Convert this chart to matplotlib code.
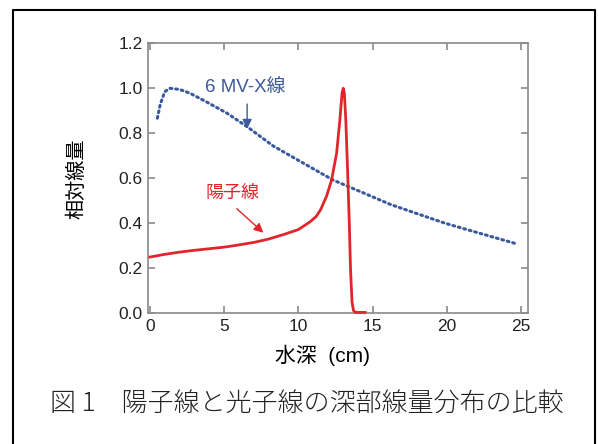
import numpy as np
import matplotlib
matplotlib.use('Agg')
import matplotlib.pyplot as plt
from matplotlib.lines import Line2D

plt.rcParams['font.family'] = ['Liberation Sans', 'Noto Sans CJK JP', 'DejaVu Sans']

# 6 MV X-ray depth dose
xray_depth = [0.5, 0.7, 1.0, 1.35, 2.0, 2.7, 3.8, 5.2, 6.6, 8.3, 10.0, 12.35,
              14.0, 16.2, 18.0, 19.9, 22.0, 24.8]
xray_dose = [0.867, 0.93, 0.985, 1.0, 0.995, 0.978, 0.94, 0.889, 0.827, 0.744,
             0.68, 0.592, 0.546, 0.484, 0.443, 0.40, 0.36, 0.307]

# proton depth dose (Bragg peak)
proton_depth = [0.0, 1.0, 2.0, 3.0, 4.0, 5.0, 6.0, 7.0, 8.0, 9.0, 10.0, 10.8,
                11.2, 11.5, 11.9, 12.24, 12.58, 12.8, 12.95, 13.03, 13.1, 13.2,
                13.32, 13.43, 13.52, 13.62, 13.72, 13.85, 14.5]
proton_dose = [0.25, 0.262, 0.272, 0.28, 0.287, 0.294, 0.304, 0.315, 0.33, 0.35,
               0.372, 0.407, 0.43, 0.46, 0.52, 0.592, 0.711, 0.859, 0.98, 1.0,
               0.98, 0.86, 0.637, 0.415, 0.193, 0.05, 0.012, 0.004, 0.004]

x_ticks = [0, 5, 10, 15, 20, 25]
y_ticks = [0.0, 0.2, 0.4, 0.6, 0.8, 1.0, 1.2]

blue = '#3a5a9c'
red = '#e0262b'
gray = '#8a8a8a'

fig = plt.figure(figsize=(5.98, 4.44), dpi=100)
ax = fig.add_axes([0.2475, 1 - 313.3 / 444, (528.3 - 148) / 598, (313.3 - 43.3) / 444])

ax.plot(xray_depth, xray_dose, color=blue, lw=2.2, linestyle=(0, (0.6, 1.25)),
        dash_capstyle='round')
ax.plot(proton_depth, proton_dose, color=red, lw=2.0, solid_joinstyle='round',
        clip_on=False, zorder=3)

ax.set_xlim(-0.13, 25.5)
ax.set_ylim(0, 1.2)
ax.set_xticks(x_ticks)
ax.set_yticks(y_ticks)
ax.set_xticklabels([str(v) for v in x_ticks])
ax.set_yticklabels(['%.1f' % v for v in y_ticks])
ax.tick_params(direction='in', length=5, width=1.2, color=gray, labelsize=12.5,
               top=True, right=True, pad=4, labelcolor='#222222')
for s in ax.spines.values():
    s.set_color(gray)
    s.set_linewidth(1.2)

ax.set_ylabel('相対線量', family=['Noto Sans CJK JP'], fontsize=14.5)
ax.yaxis.set_label_coords(-0.158, 0.5)
ax.set_xlabel('水深  (cm)', family=['Liberation Sans', 'Noto Sans CJK JP'], fontsize=15)
ax.xaxis.set_label_coords((322 - 148) / 380.3, -0.115)

ax.text(6.45, 1.005, '6 MV-X線', color=blue, fontsize=13.5, ha='center', va='center')
ax.annotate('', xy=(6.55, 0.82), xytext=(6.55, 0.93),
            arrowprops=dict(arrowstyle='-|>', color=blue, lw=1.0,
                            mutation_scale=14, shrinkA=0, shrinkB=0))
ax.text(5.55, 0.53, '陽子線', color=red, fontsize=13, ha='center', va='center',
        family=['Noto Sans CJK JP'])
ax.annotate('', xy=(7.65, 0.358), xytext=(5.85, 0.465),
            arrowprops=dict(arrowstyle='-|>', color=red, lw=1.0,
                            mutation_scale=14, shrinkA=0, shrinkB=0))

fig.text(50 / 598, 1 - 404 / 444, '図 1\u3000陽子線と光子線の深部線量分布の比較',
         family=['Noto Sans CJK JP'], fontweight='light', fontsize=18.7,
         ha='left', va='center', color='#222222')

# outer frame (left, top, right)
fig.add_artist(Line2D([12.7 / 598, 12.7 / 598, 595 / 598, 595 / 598],
                      [0, 1 - 10.5 / 444, 1 - 10.5 / 444, 0],
                      transform=fig.transFigure, color='black', lw=1.5))

fig.savefig('out.png', dpi=100)
